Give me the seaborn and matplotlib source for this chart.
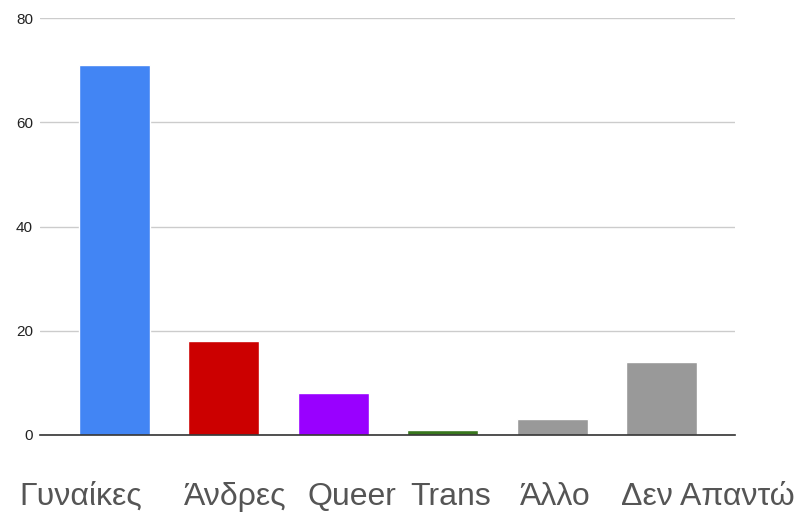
import matplotlib
matplotlib.use("Agg")
import matplotlib.pyplot as plt
import seaborn as sns
import pandas as pd

categories = ["Γυναίκες", "Άνδρες", "Queer", "Trans", "Άλλο", "Δεν Απαντώ"]
values = [71, 18, 8, 1, 3, 14]
colors = ["#4285F4", "#CC0000", "#9900FF", "#38761D", "#999999", "#999999"]
yticks = [0, 20, 40, 60, 80]
label_offsets = [-0.31, 1.10, 2.17, 3.07, 4.03, 5.42]

sns.set_theme(style="white")
plt.rcParams["font.family"] = ["Liberation Sans", "DejaVu Sans"]

df = pd.DataFrame({"cat": categories, "val": values})

fig = plt.figure(figsize=(7.99, 5.15), dpi=100)
ax = fig.add_axes([40 / 799, 1 - 435 / 515, 695 / 799, 417 / 515])

sns.barplot(data=df, x="cat", y="val", hue="cat", palette=colors, legend=False,
            width=0.65, ax=ax, saturation=1)

ax.set_xlim(-0.68, 5.67)
ax.set_ylim(0, 80)
ax.set_yticks(yticks)
ax.set_yticklabels([str(v) for v in yticks], fontsize=11, color="#222222")
ax.yaxis.grid(True, color="#cccccc", linewidth=1)
ax.set_axisbelow(True)
ax.tick_params(axis="y", length=0, pad=5)
ax.set_xticks([])
ax.set_xlabel("")
ax.set_ylabel("")
for s in ["top", "right", "left"]:
    ax.spines[s].set_visible(False)
ax.spines["bottom"].set_color("#333333")
ax.spines["bottom"].set_linewidth(1.2)

for x, lab in zip(label_offsets, categories):
    ax.text(x, -11.8, lab, ha="center", va="center", fontsize=23, color="#555555",
            transform=ax.transData, clip_on=False)

fig.savefig("out.png", dpi=100)
